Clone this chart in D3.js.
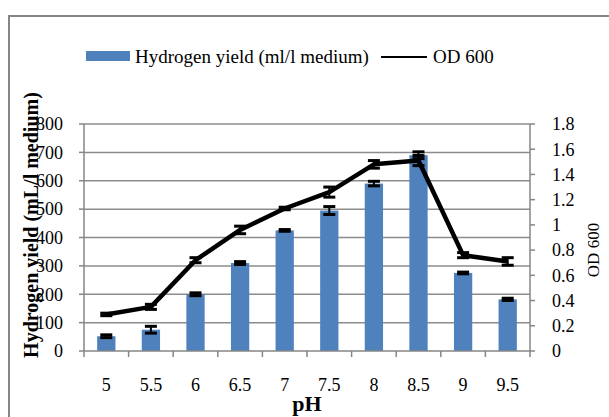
<!DOCTYPE html>
<html>
<head>
<meta charset="utf-8">
<script src="https://cdn.jsdelivr.net/npm/d3@7"></script>
<style>
  body { margin: 0; background: #fff; }
  text { font-family: "Liberation Serif", "Times New Roman", serif; fill: #000; }
</style>
</head>
<body>
<div id="chart"></div>
<script>
// data
const phLabels = ["5", "5.5", "6", "6.5", "7", "7.5", "8", "8.5", "9", "9.5"];
const hydrogenYield = [52, 75, 200, 310, 425, 495, 590, 690, 275, 182];
const hydrogenErr = [5, 12, 5, 5, 3, 14, 8, 12, 3, 4];
const od600 = [0.29, 0.35, 0.72, 0.96, 1.13, 1.26, 1.48, 1.51, 0.76, 0.71];
const odErr = [0.01, 0.02, 0.02, 0.03, 0.01, 0.04, 0.03, 0.04, 0.02, 0.03];
const leftTicks = [0, 100, 200, 300, 400, 500, 600, 700, 800];
const rightTicks = [0, 0.2, 0.4, 0.6, 0.8, 1, 1.2, 1.4, 1.6, 1.8];

const W = 609, H = 417;
const margin = {top: 124, right: 79, bottom: 66, left: 84};
const width = W - margin.left - margin.right,
      height = H - margin.top - margin.bottom;

const svg = d3.select("#chart")
  .append("svg")
    .attr("width", W)
    .attr("height", H);

// outer frame
svg.append("path")
  .attr("d", "M9,420 L9,16 L612,16")
  .attr("fill", "none")
  .attr("stroke", "#868686")
  .attr("stroke-width", 2);

const g = svg.append("g")
  .attr("transform", "translate(" + margin.left + "," + margin.top + ")");

const x = d3.scaleBand().domain(phLabels).range([0, width]);
const y = d3.scaleLinear().domain([0, 800]).range([height, 0]);
const y2 = d3.scaleLinear().domain([0, 1.8]).range([height, 0]);

// gridlines
g.selectAll(".grid")
  .data(leftTicks.slice(1))
  .enter().append("line")
    .attr("x1", 0).attr("x2", width)
    .attr("y1", d => y(d)).attr("y2", d => y(d))
    .attr("stroke", "#8c8c8c")
    .attr("stroke-width", 1.5);

// bars
const barW = x.bandwidth() * 0.41;
g.selectAll(".bar")
  .data(hydrogenYield)
  .enter().append("rect")
    .attr("x", (d, i) => x(phLabels[i]) + (x.bandwidth() - barW) / 2)
    .attr("y", d => y(d))
    .attr("width", barW)
    .attr("height", d => height - y(d))
    .attr("fill", "#4F81BD");

// error bars
function errBars(vals, errs, scale, cls) {
  const eg = g.append("g").attr("class", cls);
  vals.forEach((v, i) => {
    const cx = x(phLabels[i]) + x.bandwidth() / 2;
    const lo = scale(v - errs[i]), hi = scale(v + errs[i]);
    eg.append("line").attr("x1", cx).attr("x2", cx).attr("y1", lo).attr("y2", hi)
      .attr("stroke", "#000").attr("stroke-width", 2);
    [lo, hi].forEach(yy => eg.append("line")
      .attr("x1", cx - 6).attr("x2", cx + 6).attr("y1", yy).attr("y2", yy)
      .attr("stroke", "#000").attr("stroke-width", 3));
  });
}
errBars(hydrogenYield, hydrogenErr, y, "err-bar");

// axes lines
const axisColor = "#868686";
g.append("line").attr("x1", 0).attr("x2", width).attr("y1", height).attr("y2", height)
  .attr("stroke", axisColor).attr("stroke-width", 1.5);
g.append("line").attr("x1", 0).attr("x2", 0).attr("y1", 0).attr("y2", height)
  .attr("stroke", axisColor).attr("stroke-width", 1.5);
g.append("line").attr("x1", width).attr("x2", width).attr("y1", 0).attr("y2", height)
  .attr("stroke", axisColor).attr("stroke-width", 1.5);

// left ticks
leftTicks.forEach(t => {
  g.append("line").attr("x1", -5).attr("x2", 0).attr("y1", y(t)).attr("y2", y(t))
    .attr("stroke", axisColor).attr("stroke-width", 1.5);
  g.append("text").attr("x", -21).attr("y", y(t)).attr("dy", "0.35em")
    .attr("text-anchor", "end").attr("font-size", 18)
    .text(t);
});

// right ticks
rightTicks.forEach(t => {
  g.append("line").attr("x1", width).attr("x2", width + 5).attr("y1", y2(t)).attr("y2", y2(t))
    .attr("stroke", axisColor).attr("stroke-width", 1.5);
  g.append("text").attr("x", width + 22).attr("y", y2(t)).attr("dy", "0.35em")
    .attr("text-anchor", "start").attr("font-size", 18)
    .text(t);
});

// x ticks at band edges
d3.range(phLabels.length + 1).forEach(i => {
  const xx = i * x.step();
  g.append("line").attr("x1", xx).attr("x2", xx).attr("y1", height).attr("y2", height + 6)
    .attr("stroke", axisColor).attr("stroke-width", 1.5);
});
phLabels.forEach(p => {
  g.append("text").attr("x", x(p) + x.bandwidth() / 2).attr("y", height + 34)
    .attr("dy", "0.35em").attr("text-anchor", "middle")
    .attr("font-size", 18).text(p);
});

// OD line
const line = d3.line()
  .x((d, i) => x(phLabels[i]) + x.bandwidth() / 2)
  .y(d => y2(d));
g.append("path")
  .datum(od600)
  .attr("d", line)
  .attr("fill", "none")
  .attr("stroke", "#000")
  .attr("stroke-width", 4.5)
  .attr("stroke-linejoin", "round");
errBars(od600, odErr, y2, "err-od");

// axis titles
svg.append("text")
  .attr("transform", "translate(38,225) rotate(-90)")
  .attr("text-anchor", "middle")
  .attr("font-size", 20).attr("font-weight", "bold")
  .text("Hydrogen yield (mL/l medium)");
svg.append("text")
  .attr("transform", "translate(599,250) rotate(-90)")
  .attr("text-anchor", "middle")
  .attr("font-size", 17)
  .text("OD 600");
svg.append("text")
  .attr("x", 307).attr("y", 411)
  .attr("text-anchor", "middle")
  .attr("font-size", 22).attr("font-weight", "bold")
  .text("pH");

// legend
svg.append("rect").attr("x", 86).attr("y", 51).attr("width", 44).attr("height", 10)
  .attr("fill", "#4F81BD");
svg.append("text").attr("x", 135).attr("y", 63).attr("font-size", 19)
  .text("Hydrogen yield (ml/l medium)");
svg.append("line").attr("x1", 381).attr("x2", 427).attr("y1", 57).attr("y2", 57)
  .attr("stroke", "#000").attr("stroke-width", 2);
svg.append("text").attr("x", 433).attr("y", 63).attr("font-size", 19)
  .text("OD 600");
</script>
</body>
</html>
